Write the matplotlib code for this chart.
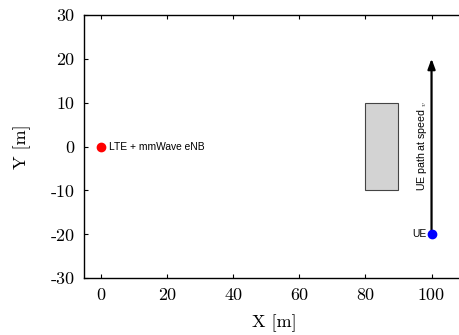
#!/usr/bin/env python3
"""Scenario layout: eNB, obstacle, UE path."""
import matplotlib
matplotlib.use("Agg")
import matplotlib.pyplot as plt
from matplotlib.patches import Rectangle

plt.rcParams["font.family"] = ["cmr10", "DejaVu Serif"]
plt.rcParams["axes.unicode_minus"] = False
plt.rcParams["mathtext.fontset"] = "cm"

# ---- data
enb_xy = (0, 0)
ue_start = (100, -20)
ue_end = (100, 20)
building_xy = (80, -10)
building_w, building_h = 10, 20
x_ticks = [0, 20, 40, 60, 80, 100]
y_ticks = [-30, -20, -10, 0, 10, 20, 30]
x_lim = (-5, 110)
y_lim = (-30, 30)

SANS = ["Liberation Sans", "DejaVu Sans"]

fig = plt.figure(figsize=(4.59, 3.35), dpi=100)
W, H = 459, 335
px_x = 330.7 / 100  # px per unit
left, bottom = 84.3, 56.7
ax_w = (x_lim[1] - x_lim[0]) * px_x
ax = fig.add_axes([left / W, bottom / H, ax_w / W, 263.6 / H])
ax.set_xlim(*x_lim)
ax.set_ylim(*y_lim)

ax.add_patch(Rectangle(building_xy, building_w, building_h,
                       fc="#d3d3d3", ec="#444444", lw=0.8, zorder=2))

ax.annotate("", xy=ue_end, xytext=ue_start,
            arrowprops=dict(arrowstyle="-|>,head_length=0.6,head_width=0.22",
                            color="black", lw=1.6, shrinkA=0, shrinkB=0),
            zorder=3)

ax.plot(*enb_xy, "o", color="#ff0000", ms=6, zorder=4)
ax.plot(*ue_start, "o", color="#0000ff", ms=6, zorder=4)

ax.text(enb_xy[0] + 2.6, enb_xy[1], "LTE + mmWave eNB", fontsize=7.4,
        family=SANS, ha="left", va="center")
ax.text(ue_start[0] - 1.4, ue_start[1], "UE", fontsize=7.4,
        family=SANS, ha="right", va="center")
ax.text(ue_start[0] - 3.0, 0, r"UE path at speed $_v$", fontsize=7.6,
        family=SANS, rotation=90, ha="center", va="center")

ax.set_xticks(x_ticks)
ax.set_yticks(y_ticks)
ax.tick_params(axis="both", direction="in", length=3, width=0.8,
               labelsize=13, pad=7)
ax.tick_params(axis="x", top=True)
ax.tick_params(axis="y", right=False)
for s in ax.spines.values():
    s.set_linewidth(1.0)
ax.spines["right"].set_visible(False)

ax.set_xlabel("X [m]", fontsize=13)
ax.set_ylabel("Y [m]", fontsize=13)
ax.xaxis.set_label_coords((274.5 - left) / ax_w, -(323 - 278.3) / 263.6)
ax.yaxis.set_label_coords(-(left - 22) / ax_w, 0.5)
ax.xaxis.label.set_va("center")
ax.yaxis.label.set_va("center")

fig.savefig("out.png", dpi=100)
